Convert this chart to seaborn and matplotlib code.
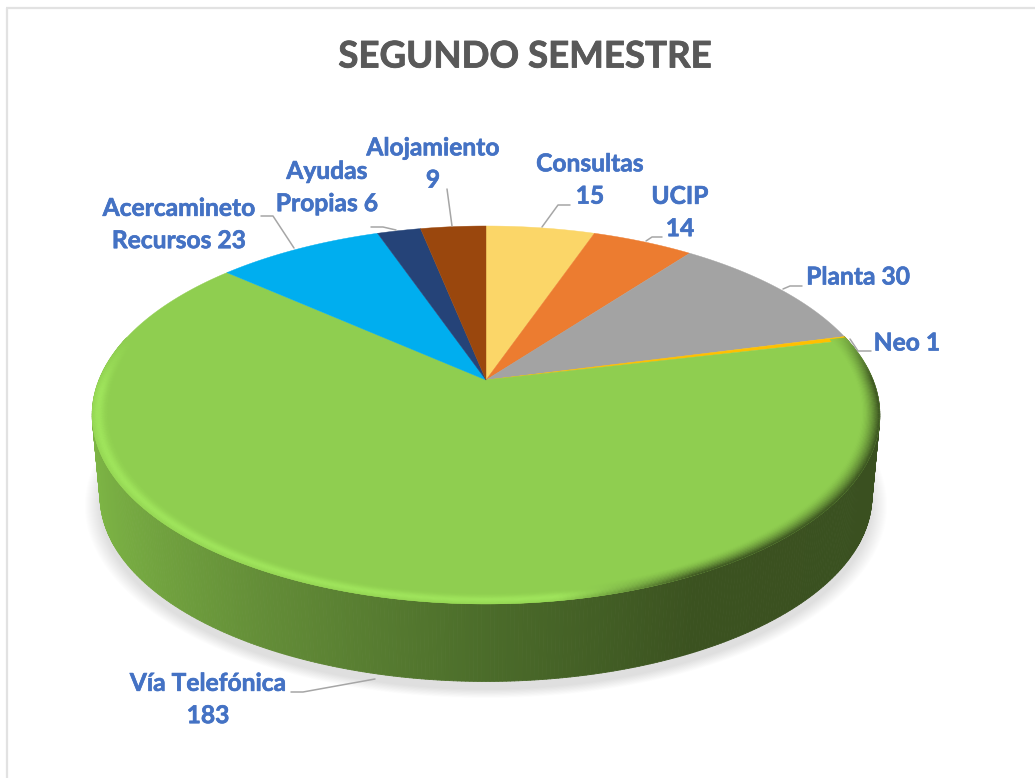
import numpy as np
import matplotlib
matplotlib.use("Agg")
import matplotlib.pyplot as plt
import matplotlib.patheffects as pe
from matplotlib.collections import PolyCollection
from matplotlib.colors import to_rgb
from matplotlib.patches import Polygon
import seaborn as sns

title = "SEGUNDO SEMESTRE"
categories = ["Consultas", "UCIP", "Planta", "Neo", "Vía Telefónica",
              "Acercamineto Recursos", "Ayudas Propias", "Alojamiento"]
values = [15, 14, 30, 1, 183, 23, 6, 9]
slice_colors = ["#FBD668", "#EC7C30", "#A3A3A3", "#FFC000", "#8FCE50",
                "#00AEEF", "#254378", "#9A470D"]
label_text = ["Consultas\n15", "UCIP\n14", "Planta 30", "Neo 1", "Vía Telefónica\n183",
              "Acercamineto\nRecursos 23", "Ayudas\nPropias 6", "Alojamiento\n9"]
label_pos = [(590, 180), (680, 212.5), (858, 277), (907, 343), (208, 699.5),
             (179, 224.5), (327, 187.5), (433, 164)]
leaders = [[(570, 205), (558, 205), (542, 227)],
           [(662, 237), (652, 237), (646, 241)],
           [(802, 286), (790, 286), (783, 289)],
           [(871, 351), (858, 351), (850, 339)],
           [(291, 692), (303, 692), (375, 679)],
           [(261, 216), (273, 216), (294, 248)],
           [(371, 227), (383, 227), (396, 230)],
           [(447, 189), (452, 226)]]

FONT = "Lato"
TEXT_BLUE = "#4472C4"
W, H = 1035, 778

# perspective of the pie plane (figure pixels)
CX, CY, A, B, C = 486.0, 380.0, 182.5, 0.185, 387.0
LOW_SCALE, LOW_DROP = 0.98, 82.0


def project(x, y, scale=1.0, drop=0.0):
    d = 1 + B * y
    return CX + scale * C * x / d, CY + drop - scale * A * y / d


sns.set_theme(style="white")
fig = plt.figure(figsize=(W / 100, H / 100), dpi=100, facecolor="white")
ax = fig.add_axes([0, 0, 1, 1])

# the library lays out the slices; they are then carried onto the tilted plane
wedges, _ = ax.pie(values, startangle=90, counterclock=False,
                   colors=sns.color_palette(slice_colors))
unit_paths = []
for w in wedges:
    th = np.radians(np.linspace(w.theta1, w.theta2, 200))
    vx = np.r_[w.center[0], w.center[0] + w.r * np.cos(th)]
    vy = np.r_[w.center[1], w.center[1] + w.r * np.sin(th)]
    unit_paths.append(np.c_[vx, vy])
    w.remove()

ax.set_aspect("auto")
ax.set_xlim(0, W)
ax.set_ylim(H, 0)
ax.axis("off")

# border
ax.plot([6.8, 6.8], [H, 8], color="#E2E2E2", lw=1.6, zorder=1, solid_capstyle="butt")
ax.plot([6, W], [8, 8], color="#E2E2E2", lw=1.6, zorder=1, solid_capstyle="butt")

t = np.radians(np.linspace(0, 360, 721))
ux, uy = np.cos(t), np.sin(t)

# soft shadow
for e in np.linspace(15, 0, 16):
    sx, sy = project(ux, uy, LOW_SCALE, LOW_DROP)
    f = 1 + e / 380
    px = CX + (sx - CX) * f
    py = CY + LOW_DROP + 8 + (sy - CY - LOW_DROP) * f
    ax.add_patch(Polygon(np.c_[px, py], closed=True, fc="black", ec="none",
                         alpha=0.0085, zorder=2))

# side wall with horizontal shading
side_stops_x = [-1.0, -0.5, 0.0, 0.45, 1.0]
side_stops = np.array([to_rgb(c) for c in ["#7FB846", "#648E38", "#4B6C2A", "#3B5220", "#3A5020"]])


def side_rgb(x):
    return np.c_[[np.interp(x, side_stops_x, side_stops[:, i]) for i in range(3)]].T


mask = uy[:-1] < 0.25
x0, y0 = ux[:-1][mask], uy[:-1][mask]
x1, y1 = ux[1:][mask], uy[1:][mask]
a0 = np.c_[project(x0, y0)]
a1 = np.c_[project(x1, y1)]
b1 = np.c_[project(x1, y1, LOW_SCALE, LOW_DROP)]
b0 = np.c_[project(x0, y0, LOW_SCALE, LOW_DROP)]
quads = np.stack([a0, a1, b1, b0], axis=1)
cols = side_rgb(x0)
ax.add_collection(PolyCollection(quads, facecolors=cols, edgecolors=cols, linewidths=0.6, zorder=3))

# top surface
for verts, col in zip(unit_paths, slice_colors):
    px, py = project(verts[:, 0], verts[:, 1])
    ax.add_patch(Polygon(np.c_[px, py], closed=True, fc=col, ec=col, lw=0.3, zorder=4))

# bevel round the front rim of the green slice
green = np.array(to_rgb(slice_colors[4]))
light = np.array(to_rgb("#A2E85E"))
dark = np.array(to_rgb("#3A5020"))
radii = np.linspace(0.955, 1.0, 16)
bevel_quads, bevel_cols = [], []
k = uy[:-1] < 0.24
xx, yy = ux[:-1][k], uy[:-1][k]
xn, yn = ux[1:][k], uy[1:][k]
yfade = np.interp(yy, [-0.05, 0.24], [1, 0])
for r0, r1 in zip(radii[:-1], radii[1:]):
    rm = (r0 + r1) / 2
    prof_light = np.exp(-((rm - 0.986) / 0.015) ** 2)
    prof_dark = ((rm - 0.955) / 0.045) ** 1.6
    lw = np.interp(xx, [-1, 0.15, 0.4], [1, 1, 0]) * yfade * prof_light * 0.9
    dw = np.interp(xx, [0.15, 0.45], [0, 1]) * np.interp(yy, [0.0, 0.24], [1, 0.25]) * prof_dark
    c = green + (light - green) * lw[:, None] + (dark - green) * dw[:, None]
    q = np.stack([np.c_[project(xx * r0, yy * r0)], np.c_[project(xn * r0, yn * r0)],
                  np.c_[project(xn * r1, yn * r1)], np.c_[project(xx * r1, yy * r1)]], axis=1)
    bevel_quads.append(q)
    bevel_cols.append(c)
bevel_quads = np.concatenate(bevel_quads)
bevel_cols = np.concatenate(bevel_cols)
ax.add_collection(PolyCollection(bevel_quads, facecolors=bevel_cols, edgecolors=bevel_cols,
                                 linewidths=0.3, zorder=5))

# leader lines
for pts in leaders:
    xs, ys = zip(*pts)
    ax.plot(xs, ys, color="#A6A6A6", lw=1.1, zorder=6, solid_joinstyle="round")

# labels
for txt, (lx, ly) in zip(label_text, label_pos):
    ax.text(lx, ly, txt, family=FONT, weight="bold", fontsize=17.7, color=TEXT_BLUE,
            ha="center", va="center", linespacing=1.49, zorder=7,
            path_effects=[pe.withStroke(linewidth=0.45, foreground=TEXT_BLUE)])

ax.text(525, 57, title, family=FONT, weight="bold", fontsize=26.4, color="#595959",
        ha="center", va="center", zorder=7,
        path_effects=[pe.withStroke(linewidth=0.6, foreground="#595959")])

fig.savefig("out.png", dpi=100, facecolor="white")
